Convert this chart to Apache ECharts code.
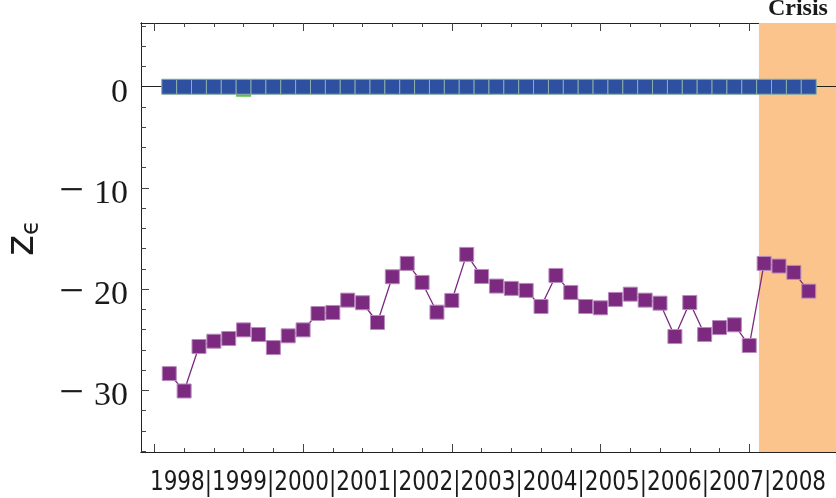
<!DOCTYPE html>
<html>
<head>
<meta charset="utf-8">
<script src="https://cdn.jsdelivr.net/npm/echarts@6/dist/echarts.min.js"></script>
<style>
  html, body { margin: 0; padding: 0; background: #fff; }
  #chart { width: 836px; height: 498px; }
</style>
</head>
<body>
<div id="chart"></div>
<script>
// quarterly values, 1998 Q1 .. 2008 Q4
const years = ['1998', '1999', '2000', '2001', '2002', '2003', '2004', '2005', '2006', '2007', '2008'];
const zPurple = [
  -28.35, -30.07, -25.67, -25.15, -24.88, -24.03, -24.49, -25.78, -24.62, -24.03, -22.41,
  -22.31, -21.09, -21.35, -23.30, -18.78, -17.46, -19.34, -22.28, -21.12, -16.57, -18.75,
  -19.70, -19.93, -20.13, -21.72, -18.65, -20.33, -21.72, -21.85, -21.02, -20.50, -21.09,
  -21.39, -24.69, -21.32, -24.49, -23.80, -23.53, -25.58, -17.46, -17.72, -18.35, -20.20
];
const zBlue = [
  0, 0, 0, 0, 0, 0, 0, 0, 0, 0, 0, 0, 0, 0, 0, 0, 0, 0, 0, 0, 0, 0,
  0, 0, 0, 0, 0, 0, 0, 0, 0, 0, 0, 0, 0, 0, 0, 0, 0, 0, 0, 0, 0, 0
];
const zGreen = [
  0, 0, 0, 0, 0, -0.25, 0, 0, 0, 0, 0, 0, 0, 0, 0, 0, 0, 0, 0, 0, 0, 0,
  0, 0, 0, 0, 0, 0, 0, 0, 0, 0, 0, 0, 0, 0, 0, 0, 0, 0, 0, 0, 0, 0
];
const crisisStart = 40.65;
const yLabels = [0, -10, -20, -30];
const yMinor = [6, 4, 2, -2, -4, -6, -8, -12, -14, -16, -18, -22, -24, -26, -28, -32, -34, -36];
const xMajor = [0, 10, 20, 30, 40];
const xMinor = [2, 4, 6, 8, 12, 14, 16, 18, 22, 24, 26, 28, 32, 34, 36, 38, 42, 44];

const xMin = -0.9, xMax = 45.9, yMin = -36.1, yMax = 6.3;

const toPoints = arr => arr.map((v, i) => [i + 1, v]);

function makeX(pos, ticks, len) {
  return {
    type: 'value', position: pos, min: xMin, max: xMax,
    axisLine: { show: true, onZero: false, lineStyle: { color: '#222', width: 1 } },
    axisTick: { show: true, inside: true, length: len, customValues: ticks, lineStyle: { color: '#444' } },
    axisLabel: { show: false },
    splitLine: { show: false }
  };
}
function makeY(pos, ticks, len, labels) {
  return {
    type: 'value', position: pos, min: yMin, max: yMax,
    axisLine: { show: true, onZero: false, lineStyle: { color: '#222', width: 1 } },
    axisTick: { show: true, inside: true, length: len, customValues: ticks, lineStyle: { color: '#444' } },
    axisLabel: labels ? {
      show: true, customValues: yLabels, margin: 13,
      fontFamily: 'Liberation Serif', fontSize: 34, color: '#1a1a1a',
      padding: [12, 0, 0, 0],
      formatter: v => (v < 0 ? '{m|\u2212}{n|' + Math.abs(v) + '}' : '{n|' + v + '}'),
      rich: {
        m: { fontFamily: 'Liberation Serif', fontSize: 44, color: '#1a1a1a', padding: [0, 10, 3, 0] },
        n: { fontFamily: 'Liberation Serif', fontSize: 34, color: '#1a1a1a' }
      }
    } : { show: false },
    splitLine: { show: false }
  };
}

const chart = echarts.init(document.getElementById('chart'));

const option = {
  animation: false,
  grid: { left: 141, right: -1, top: 23, bottom: 46, containLabel: false, outerBoundsMode: 'none' },
  xAxis: [makeX('bottom', xMajor, 8), makeX('bottom', xMinor, 4), makeX('top', xMajor, 8), makeX('top', xMinor, 4)],
  yAxis: [
    makeY('left', yLabels, 8, true), makeY('left', yMinor, 5, false),
    makeY('right', yLabels, 8, false), makeY('right', yMinor, 5, false)
  ],
  graphic: [
    {
      // year strip under the frame
      type: 'text', x: 488, y: 469, scaleX: 0.875,
      style: {
        text: years.join('|'), align: 'center', verticalAlign: 'top',
        fontFamily: 'DejaVu Sans Condensed', fontSize: 27.4, fill: '#1a1a1a'
      }
    },
    {
      type: 'text', x: 2, y: 256, rotation: Math.PI / 2,
      style: {
        text: '{z|z}{e|\u03f5}',
        rich: {
          z: { fontFamily: 'DejaVu Sans', fontSize: 40, fill: '#1a1a1a' },
          e: { fontFamily: 'DejaVu Sans', fontSize: 24, fill: '#1a1a1a', padding: [18, 0, 0, 0] }
        }
      }
    }
  ],
  series: [
    {
      name: 'crisis', type: 'line', data: [], z: 1,
      markArea: {
        silent: true,
        itemStyle: { color: '#fac48c' },
        label: {
          show: true, position: 'top', distance: 2,
          fontFamily: 'Liberation Serif', fontWeight: 'bold', fontSize: 24, color: '#1a1a1a'
        },
        data: [[{ name: 'Crisis', xAxis: crisisStart, yAxis: yMax }, { xAxis: xMax, yAxis: yMin }]]
      }
    },
    {
      name: 'purple', type: 'line', data: toPoints(zPurple), z: 3,
      symbol: 'rect', symbolSize: 14,
      lineStyle: { color: '#7b2a80', width: 1.3 },
      itemStyle: { color: '#7b2a80', borderColor: '#b98bbd', borderWidth: 1 }
    },
    {
      name: 'green', type: 'line', data: toPoints(zGreen), z: 4,
      symbol: 'rect', symbolSize: 15,
      lineStyle: { width: 0 },
      itemStyle: { color: '#5cc04a' }
    },
    {
      name: 'blue', type: 'line', data: toPoints(zBlue), z: 5,
      symbol: 'rect', symbolSize: 15,
      lineStyle: { width: 0 },
      itemStyle: { color: '#2e50a0', borderColor: '#8fb0a8', borderWidth: 1 }
    },
    {
      name: 'zero', type: 'line', data: [], z: 6,
      markLine: {
        silent: true, symbol: 'none', label: { show: false },
        lineStyle: { color: '#222', width: 1, type: 'solid' },
        data: [{ yAxis: 0 }]
      }
    }
  ]
};
chart.setOption(option);
</script>
</body>
</html>
